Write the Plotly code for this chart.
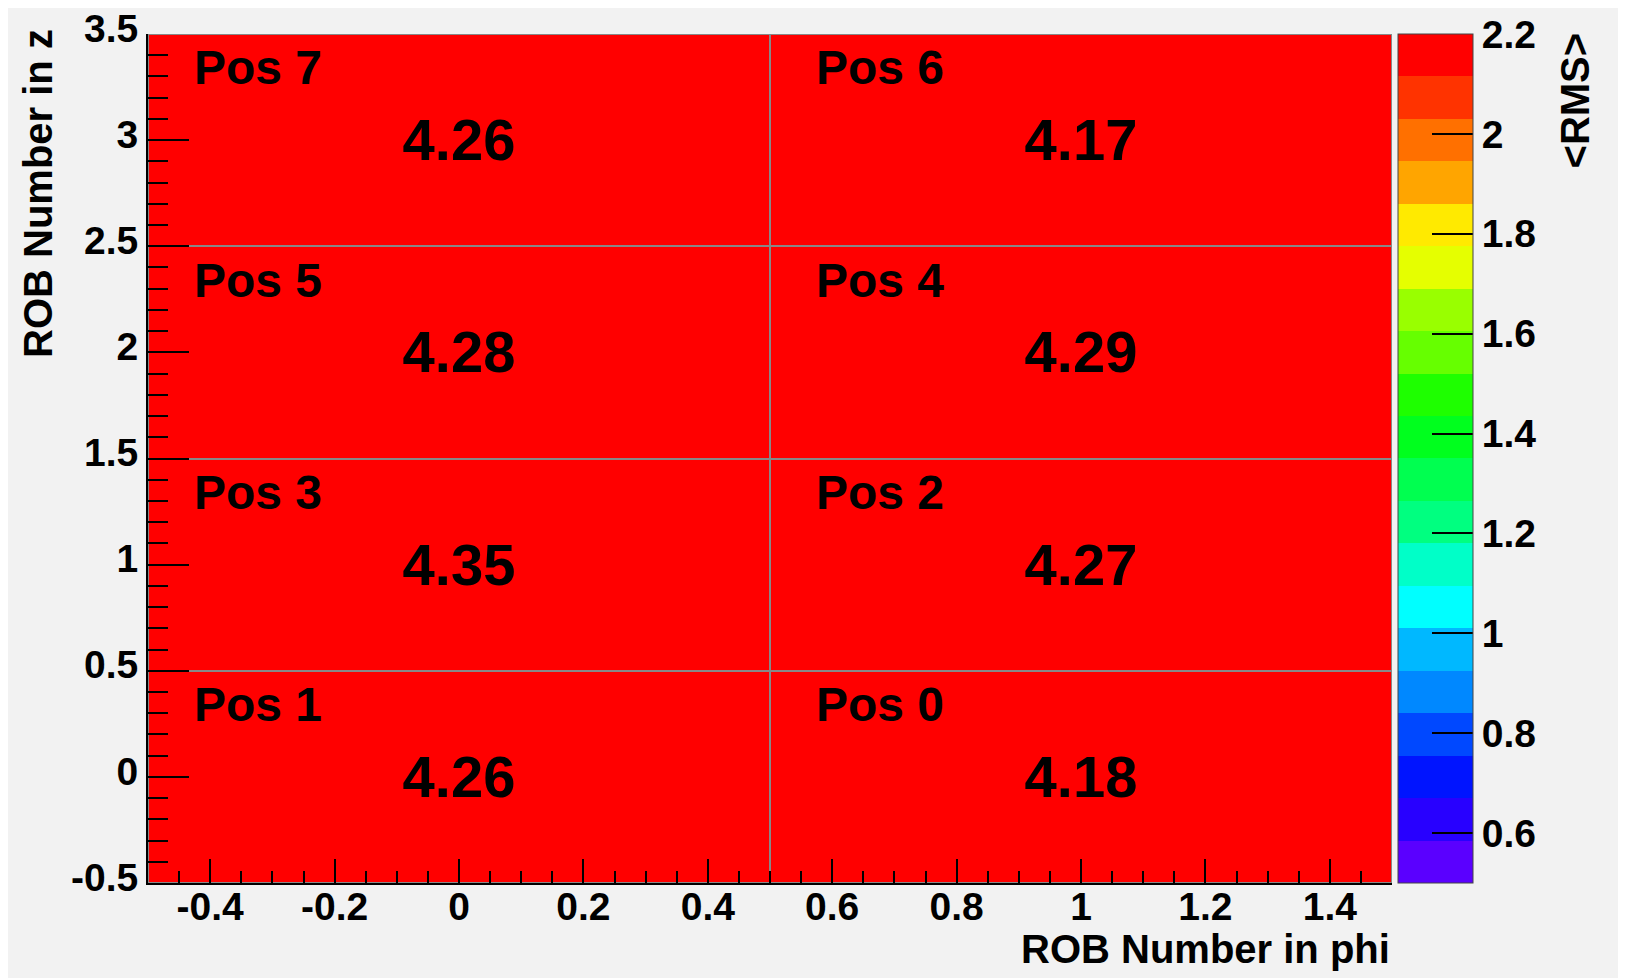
import plotly.graph_objects as go

# ROB grid: columns are phi (0, 1), rows are z (0..3)
phi_bins = [0, 1]
z_bins = [0, 1, 2, 3]
rms_values = [
    [4.26, 4.18],
    [4.35, 4.27],
    [4.28, 4.29],
    [4.26, 4.17],
]
pos_labels = [
    ["Pos 1", "Pos 0"],
    ["Pos 3", "Pos 2"],
    ["Pos 5", "Pos 4"],
    ["Pos 7", "Pos 6"],
]

# tick labels (plain hyphen minus like ROOT)
x_ticks = [-0.4, -0.2, 0, 0.2, 0.4, 0.6, 0.8, 1.0, 1.2, 1.4]
x_ticktext = ["-0.4", "-0.2", "0", "0.2", "0.4", "0.6", "0.8", "1", "1.2", "1.4"]
y_ticks = [-0.5, 0, 0.5, 1, 1.5, 2, 2.5, 3, 3.5]
y_ticktext = ["-0.5", "0", "0.5", "1", "1.5", "2", "2.5", "3", "3.5"]

# ROOT-like palette, 20 contours from 0.5 up to 2.2
palette = ["#5a00ff", "#2800ff", "#0014ff", "#0048ff", "#0088ff",
           "#00b8ff", "#00ffff", "#00ffc8", "#00ff80", "#00ff50",
           "#00ff1e", "#1eff00", "#66ff00", "#99ff00", "#e5ff00",
           "#ffea00", "#ffa500", "#ff7000", "#ff3300", "#ff0000"]
z_min, z_max = 0.5, 2.2
cb_ticks = [0.6, 0.8, 1.0, 1.2, 1.4, 1.6, 1.8, 2.0, 2.2]
cb_ticktext = ["0.6", "0.8", "1", "1.2", "1.4", "1.6", "1.8", "2", "2.2"]

n = len(palette)
colorscale = []
for i, c in enumerate(palette):
    colorscale.append([i / n, c])
    colorscale.append([(i + 1) / n, c])

FONT = "Liberation Sans"

fig = go.Figure(go.Heatmap(
    x=phi_bins, y=z_bins, z=rms_values,
    zmin=z_min, zmax=z_max, colorscale=colorscale,
    xgap=2, ygap=2,
    texttemplate="%{z:.2f}",
    textfont=dict(family=FONT, size=58, color="black", weight="bold"),
    hoverinfo="skip",
    colorbar=dict(
        x=1.0048, xanchor="left", xpad=0,
        y=0.5, yanchor="middle", ypad=0,
        len=1, thickness=75,
        tickvals=cb_ticks, ticktext=cb_ticktext,
        ticks="inside", ticklen=41, tickwidth=1.5, tickcolor="black",
        tickfont=dict(family=FONT, size=39, color="black", weight="bold"),
        outlinewidth=1, outlinecolor="#444",
    ),
))

for r, row in enumerate(pos_labels):
    for c, lab in enumerate(row):
        fig.add_annotation(
            x=phi_bins[c] - 0.43, y=z_bins[r] + 0.34, text=lab,
            showarrow=False, xanchor="left", yanchor="middle",
            font=dict(family=FONT, size=48, color="black", weight="bold"))

# axis titles, ROOT style (right / top aligned)
fig.add_annotation(
    x=1, y=-0.078, xref="paper", yref="paper", text="ROB Number in phi",
    showarrow=False, xanchor="right", yanchor="middle",
    font=dict(family=FONT, size=40, color="black", weight="bold"))
fig.add_annotation(
    x=-0.089, y=1.008, xref="paper", yref="paper", text="ROB Number in z",
    textangle=-90, showarrow=False, xanchor="center", yanchor="top",
    font=dict(family=FONT, size=40, color="black", weight="bold"))
fig.add_annotation(
    x=1.147, y=1.004, xref="paper", yref="paper", text="&lt;RMS&gt;",
    textangle=-90, showarrow=False, xanchor="center", yanchor="top",
    font=dict(family=FONT, size=40, color="black", weight="bold"))

fig.update_xaxes(
    range=[-0.5, 1.5], tickvals=x_ticks, ticktext=x_ticktext,
    ticks="inside", ticklen=24, tickwidth=1.5, tickcolor="black",
    minor=dict(dtick=0.05, tick0=0, ticks="inside", ticklen=12, tickwidth=1.5, tickcolor="black"),
    showline=True, linecolor="black", linewidth=2,
    showgrid=False, zeroline=False, automargin=False,
    tickfont=dict(family=FONT, size=39, color="black", weight="bold"),
    ticklabelstandoff=-12,
)
fig.update_yaxes(
    range=[-0.5, 3.5], tickvals=y_ticks, ticktext=y_ticktext,
    ticks="inside", ticklen=41, tickwidth=1.5, tickcolor="black",
    minor=dict(dtick=0.1, tick0=0, ticks="inside", ticklen=20, tickwidth=1.5, tickcolor="black"),
    showline=True, linecolor="black", linewidth=2,
    showgrid=False, zeroline=False, automargin=False,
    tickfont=dict(family=FONT, size=39, color="black", weight="bold"),
    ticklabelstandoff=0, ticklabelshift=-6, ticklabeloverflow="allow",
)

# the page body has an 8px margin, so shrink the figure to keep the plot in place
fig.update_layout(
    width=1618, height=970,
    margin=dict(l=140, r=234, t=26, b=95),
    paper_bgcolor="#f2f2f2", plot_bgcolor="#888888",
    showlegend=False,
)

fig.write_html("out.html")
